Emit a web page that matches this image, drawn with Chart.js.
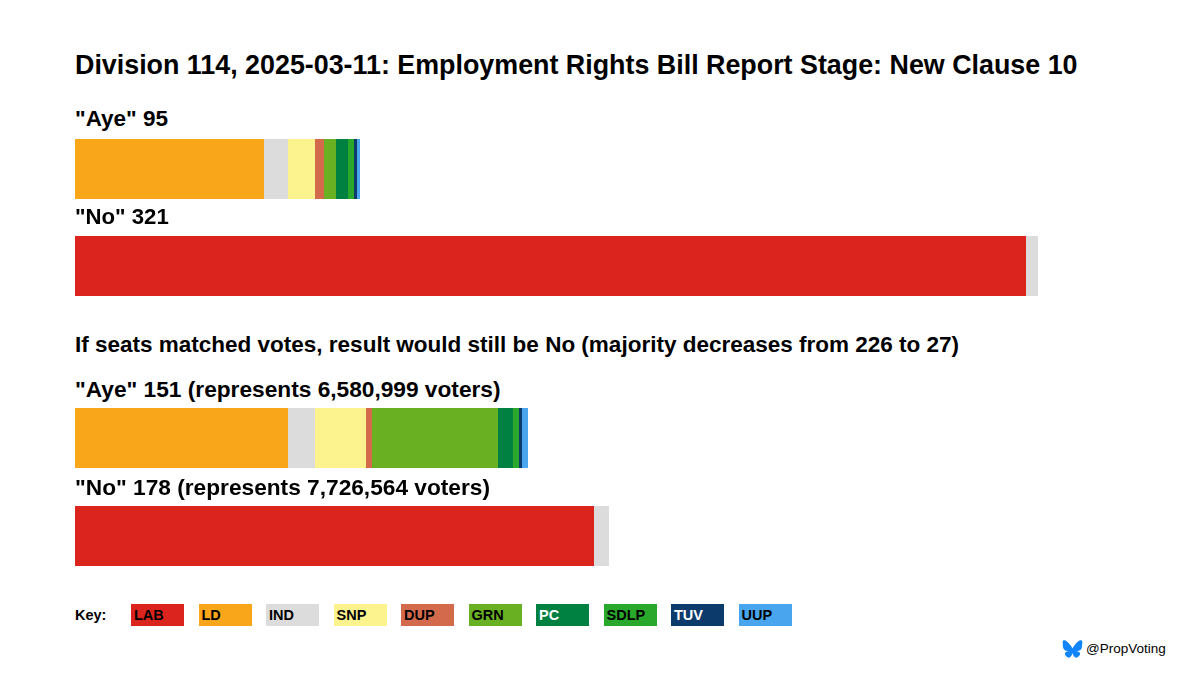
<!DOCTYPE html>
<html>
<head>
<meta charset="utf-8">
<title>Division 114</title>
<script src="https://cdn.jsdelivr.net/npm/chart.js@4"></script>
<style>
  html, body { margin: 0; padding: 0; background: #fff; }
  body { width: 1200px; height: 675px; position: relative; overflow: hidden;
         font-family: "Liberation Sans", Arial, sans-serif; color: #000; }
  .txt { position: absolute; left: 75px; font-weight: bold; white-space: nowrap; line-height: 1; }
  #title { top: 52px; font-size: 26.85px; }
  .lab { font-size: 22.5px; }
  .wide { font-size: 22.7px; }
  .wrap { position: absolute; left: 0; width: 1200px; }
  #key { position: absolute; left: 75px; top: 604px; height: 22px; }
  #keyLabel { position: absolute; left: 0; top: 3px; font-size: 14.5px; font-weight: bold; }
  .swatch { position: absolute; top: 0; width: 53px; height: 22px; font-size: 14.5px; font-weight: bold;
            line-height: 23px; padding-left: 3px; box-sizing: border-box; }
  #handle { position: absolute; left: 1086px; top: 641px; font-size: 13.5px; }
  #fly { position: absolute; left: 1062px; top: 640px; width: 21px; height: 18px; }
</style>
</head>
<body>

<div class="txt" id="title"></div>
<div class="txt lab" id="actualAye" style="top:108px"></div>
<div class="wrap" style="top:120px;height:195px"><canvas id="actualChart"></canvas></div>
<div class="txt lab" id="actualNo" style="top:206px;font-size:22.2px"></div>

<div class="txt lab" id="headline" style="top:334px"></div>
<div class="txt wide" id="fairAye" style="top:378px"></div>
<div class="wrap" style="top:389px;height:196px"><canvas id="fairChart"></canvas></div>
<div class="txt wide" id="fairNo" style="top:476px"></div>

<div id="key"><div id="keyLabel">Key:</div></div>

<svg id="fly" viewBox="0 0 600 530"><path fill="#1185fe" d="m135.72 44.03c66.496 49.921 138.02 151.14 164.28 205.46 26.262-54.316 97.782-155.54 164.28-205.46 47.98-36.021 125.72-63.892 125.72 24.795 0 17.712-10.155 148.79-16.111 170.07-20.703 73.984-96.144 92.854-163.25 81.433 117.3 19.964 147.14 86.092 82.697 152.22-122.39 125.59-175.91-31.511-189.63-71.766-2.514-7.3797-3.6904-10.832-3.7077-7.8964-0.0174-2.9357-1.1937 0.51669-3.7077 7.8964-13.714 40.255-67.233 197.36-189.63 71.766-64.444-66.128-34.605-132.26 82.697-152.22-67.108 11.421-142.55-7.4491-163.25-81.433-5.9562-21.282-16.111-152.36-16.111-170.07 0-88.687 77.742-60.816 125.72-24.795z"/></svg>
<div id="handle"></div>

<script>
const titleText = 'Division 114, 2025-03-11: Employment Rights Bill Report Stage: New Clause 10';
const headlineText = 'If seats matched votes, result would still be No (majority decreases from 226 to 27)';
const handleText = '@PropVoting';

const parties = ['LAB', 'LD', 'IND', 'SNP', 'DUP', 'GRN', 'PC', 'SDLP', 'TUV', 'UUP'];
const partyColours = ['#DC241F', '#FAA61A', '#DCDCDC', '#FDF38E', '#D46A4C', '#6AB023', '#008142', '#2AA82C', '#0C3A6A', '#48A5EE'];
const keyTextColours = ['#000', '#000', '#000', '#000', '#000', '#000', '#fff', '#000', '#fff', '#000'];

const actualLabels = ['"Aye" 95', '"No" 321'];
const actualAye = [null, 63, 8, 9, 3, 4, 4, 2, 1, 1];
const actualNo = [317, null, 4, null, null, null, null, null, null, null];

const fairLabels = ['"Aye" 151 (represents 6,580,999 voters)', '"No" 178 (represents 7,726,564 voters)'];
const fairAye = [null, 71, 9, 17, 2, 42, 5, 2, 1, 2];
const fairNo = [173, null, 5, null, null, null, null, null, null, null];

function createChart(id, labels, aye, no, padY){
    const datasets = [];
    for(var i in parties)
    {
        datasets.push({
            label: parties[i],
            data: [aye[i], no[i]],
            backgroundColor: partyColours[i],
            borderWidth: 0,
            inflateAmount: 0,
            barThickness: 60
        });
    }
    return new Chart(document.getElementById(id), {
        type: 'bar',
        data: { labels: labels, datasets: datasets },
        options: {
            indexAxis: 'y',
            responsive: true,
            maintainAspectRatio: false,
            devicePixelRatio: 1,
            animation: false,
            layout: { padding: { left: 75, top: padY, bottom: padY } },
            plugins: { legend: { display: false }, title: { display: false }, tooltip: { enabled: false } },
            scales: {
                x: { stacked: true, display: false, min: 0, max: 375 },
                y: { stacked: true, display: false }
            }
        }
    });
}

document.getElementById('title').textContent = titleText;
document.getElementById('headline').textContent = headlineText;
document.getElementById('handle').textContent = handleText;
document.getElementById('actualAye').textContent = actualLabels[0];
document.getElementById('actualNo').textContent = actualLabels[1];
document.getElementById('fairAye').textContent = fairLabels[0];
document.getElementById('fairNo').textContent = fairLabels[1];

const key = document.getElementById('key');
parties.forEach(function(p, i){
    const s = document.createElement('div');
    s.className = 'swatch';
    s.style.left = (56 + i * 67.5) + 'px';
    s.style.background = partyColours[i];
    s.style.color = keyTextColours[i];
    s.textContent = p;
    key.appendChild(s);
});

createChart('actualChart', actualLabels, actualAye, actualNo, 0.5);
createChart('fairChart', fairLabels, fairAye, fairNo, 0);
</script>
</body>
</html>
